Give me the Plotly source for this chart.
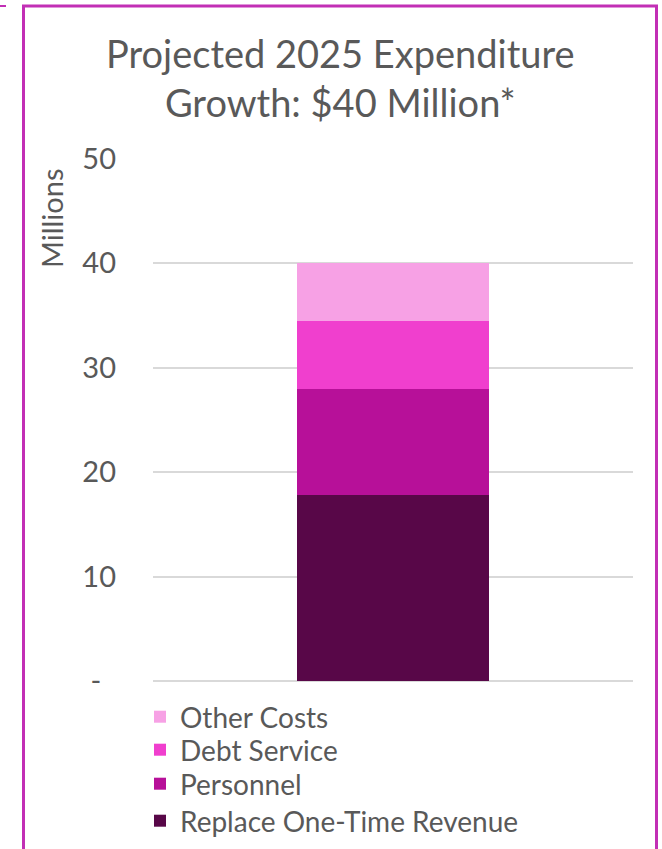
import plotly.graph_objects as go

categories = ["2025"]
series_names = ["Replace One-Time Revenue", "Personnel", "Debt Service", "Other Costs"]
series_values = [[17.8], [10.2], [6.5], [5.5]]
series_colors = ["#580748", "#B71099", "#F03FCE", "#F7A1E5"]
tick_vals = [0, 10, 20, 30, 40, 50]
tick_text = ["-\u00a0\u00a0", "10", "20", "30", "40", "50"]

W, H = 662, 849
L, R, T, B = 153, 633, 158, 681  # plot area in pixels

def px(x):
    return (x - L) / (R - L)

def py(y):
    return (B - y) / (B - T)

FONT = "Lato"
GREY = "#595959"

# legend rows (top to bottom) : Other Costs, Debt Service, Personnel, Replace
legend_row_y = {"Other Costs": 717, "Debt Service": 750,
                "Personnel": 784, "Replace One-Time Revenue": 821}
legend_ids = {"Other Costs": "legend", "Debt Service": "legend2",
              "Personnel": "legend3", "Replace One-Time Revenue": "legend4"}

fig = go.Figure()
for name, vals, col in zip(series_names, series_values, series_colors):
    fig.add_trace(go.Bar(x=categories, y=vals, name=name, marker_color=col,
                         marker_line_width=0, width=0.4,
                         legend=legend_ids[name]))

legend_layout = {}
for name, lid in legend_ids.items():
    legend_layout[lid] = dict(
        orientation="v", xref="container", yref="container",
        x=140 / W, y=1 - legend_row_y[name] / H,
        xanchor="left", yanchor="middle",
        font=dict(size=28, color=GREY, family=FONT),
        bgcolor="rgba(0,0,0,0)", itemwidth=30)

fig.update_layout(
    width=W, height=H,
    margin=dict(l=L, r=W - R, t=T, b=H - B, autoexpand=False),
    barmode="stack",
    paper_bgcolor="white", plot_bgcolor="white",
    font=dict(family=FONT, color=GREY),
    showlegend=True,
    xaxis=dict(showticklabels=False, showgrid=False, zeroline=False,
               showline=False, ticks=""),
    yaxis=dict(range=[0, 50.08], tickvals=tick_vals, ticktext=tick_text,
               showgrid=True, gridcolor="#D9D9D9", gridwidth=1.5,
               zeroline=True, zerolinecolor="#D9D9D9", zerolinewidth=1.5,
               showline=False, ticks="",
               tickfont=dict(size=29, color=GREY, family=FONT),
               ticklabelstandoff=36),
    annotations=[
        dict(text="Projected 2025 Expenditure<br>Growth: $40 Million*",
             x=(340 - L) / (R - L), y=py(77), xref="paper", yref="paper",
             xanchor="center", yanchor="middle", showarrow=False,
             font=dict(size=38, color=GREY, family=FONT)),
        dict(text="Millions", textangle=-90,
             x=px(51), y=py(218), xref="paper", yref="paper",
             xanchor="center", yanchor="middle", showarrow=False,
             font=dict(size=29, color=GREY, family=FONT)),
    ],
    shapes=[
        dict(type="rect", xref="paper", yref="paper",
             x0=px(23.5), x1=px(656.5), y0=py(870), y1=py(6),
             line=dict(color="#C22FB5", width=3), fillcolor="rgba(0,0,0,0)",
             layer="above"),
        dict(type="line", xref="paper", yref="paper",
             x0=px(0), x1=px(6), y0=py(6), y1=py(6),
             line=dict(color="#C22FB5", width=2)),
    ],
    **legend_layout,
)

fig.write_html("out.html")
